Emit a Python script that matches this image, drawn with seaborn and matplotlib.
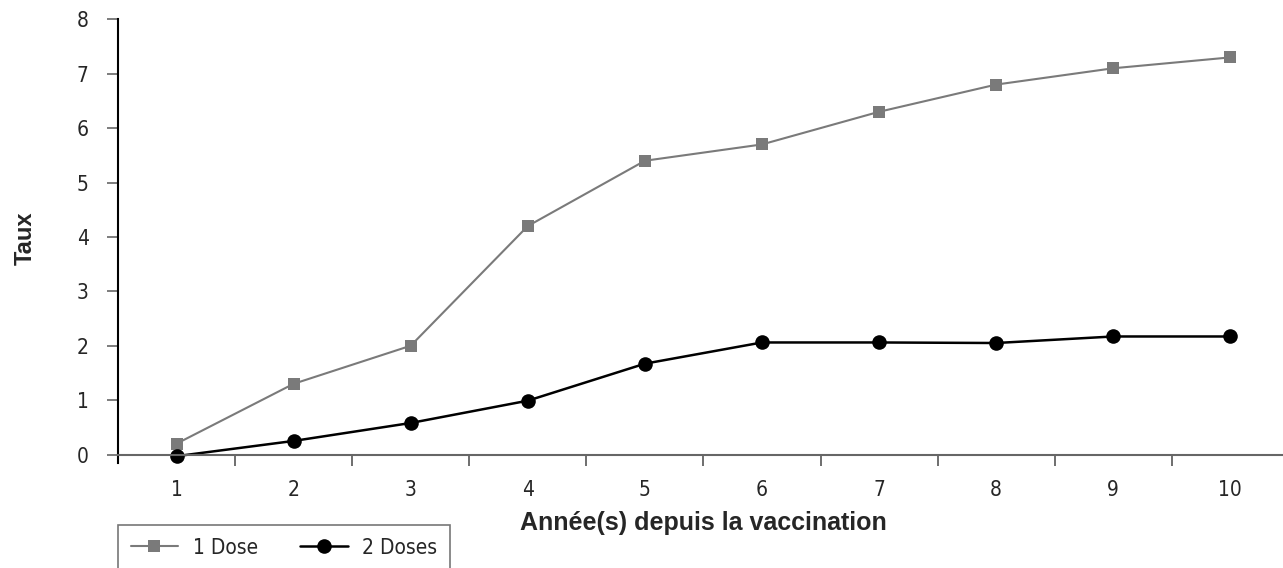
import pandas as pd
import seaborn as sns
import matplotlib.pyplot as plt

# values
annees = [1, 2, 3, 4, 5, 6, 7, 8, 9, 10]
une_dose = [0.2, 1.3, 2.0, 4.2, 5.4, 5.7, 6.3, 6.8, 7.1, 7.3]
deux_doses = [-0.03, 0.25, 0.58, 0.99, 1.67, 2.06, 2.06, 2.05, 2.17, 2.17]
series = ["1 Dose", "2 Doses"]
y_ticks = [0, 1, 2, 3, 4, 5, 6, 7, 8]

df = pd.DataFrame({
    "annee": annees * 2,
    "taux": une_dose + deux_doses,
    "serie": [series[0]] * len(annees) + [series[1]] * len(annees),
})

sns.set_style("white")
plt.rcParams["font.family"] = ["DejaVu Sans"]
plt.rcParams["font.stretch"] = "condensed"

W, H = 1283, 568
fig = plt.figure(figsize=(W / 100, H / 100), dpi=100)
ax = fig.add_axes([118 / W, 1 - 462.7 / H, (1283 - 118) / W, (462.7 - 19.3) / H])

colors = {"1 Dose": "#7a7a7a", "2 Doses": "black"}
sizes = {"1 Dose": 9, "2 Doses": 10.5}
widths = {"1 Dose": 1.5, "2 Doses": 1.8}

sns.lineplot(
    data=df, x="annee", y="taux", hue="serie", style="serie",
    palette=colors, markers={"1 Dose": "s", "2 Doses": "o"}, dashes=False,
    markeredgewidth=0, ax=ax,
)
for line, s in zip(ax.lines[:2], series):
    line.set_markersize(sizes[s])
    line.set_linewidth(widths[s])

ax.set_xlim(0.5, 10.45)
ax.set_ylim(-0.15, 8)
ax.set_yticks(y_ticks)
ax.set_yticklabels([str(v) for v in y_ticks])

# ticks between categories, labels at category centres
ax.set_xticks([a + 0.5 for a in annees[:-1]])
ax.set_xticklabels([])
ax.set_xticks(annees, minor=True)
ax.set_xticklabels([str(a) for a in annees], minor=True)
ax.tick_params(axis="x", which="major", direction="out", length=8, width=1.2,
               color="#555555", bottom=True)
ax.tick_params(axis="x", which="minor", length=0, pad=18, labelsize=15)
ax.tick_params(axis="y", direction="out", length=8, width=1.2,
               color="#666666", left=True, pad=13, labelsize=15)

for s in ["top", "right"]:
    ax.spines[s].set_visible(False)
ax.spines["bottom"].set_position(("data", 0))
ax.spines["bottom"].set_color("#666666")
ax.spines["bottom"].set_linewidth(1.5)
ax.spines["left"].set_color("black")
ax.spines["left"].set_linewidth(1.5)

ax.set_xlabel("")
ax.set_ylabel("")
fig.text(25 / W, 1 - 238 / H, "Taux", rotation=90, ha="center", va="center",
         fontsize=17, fontweight="bold", fontstretch="normal",
         family=["Liberation Sans", "DejaVu Sans"])
fig.text(703 / W, 1 - 523 / H, "Année(s) depuis la vaccination", ha="center",
         va="center", fontsize=18, fontweight="bold", fontstretch="normal",
         family=["Liberation Sans", "DejaVu Sans"])

handles, labels = ax.get_legend_handles_labels()
leg = ax.legend(handles[-2:], labels[-2:], ncol=2, loc="upper left",
                bbox_to_anchor=(118 / W, 1 - 525 / H), bbox_transform=fig.transFigure,
                borderaxespad=0, fontsize=15, handlelength=2.3, handletextpad=0.7,
                columnspacing=2.0, borderpad=0.6, fancybox=False,
                edgecolor="#777777", framealpha=1, title=None)
leg.get_frame().set_linewidth(1.2)
for h, s in zip(leg.legend_handles, labels[-2:]):
    h.set_markersize(sizes[s])
    h.set_linewidth(widths[s])

fig.savefig("out.png", dpi=100)
